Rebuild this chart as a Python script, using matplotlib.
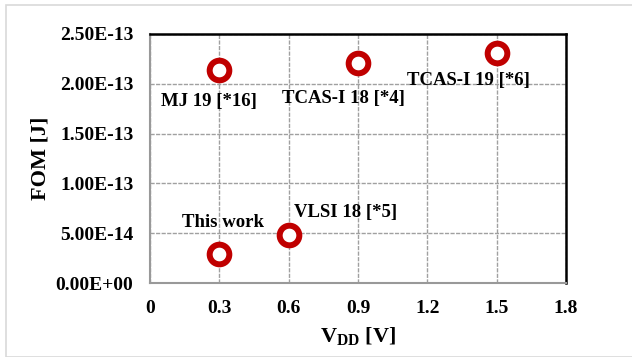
import matplotlib.pyplot as plt
from matplotlib.patches import Rectangle

vdd = [0.3, 0.6, 0.3, 0.9, 1.5]
fom = [2.9e-14, 4.8e-14, 2.14e-13, 2.21e-13, 2.31e-13]
names = ["This work", "VLSI 18 [*5]", "MJ 19 [*16]", "TCAS-I 18 [*4]", "TCAS-I 19 [*6]"]
# label offsets (data units) relative to each point
lab_dx = [0.016, 0.248, -0.045, -0.065, -0.12]
lab_dy = [3.2e-14, 2.3e-14, -3.2e-14, -3.6e-14, -2.8e-14]
xticks = [0, 0.3, 0.6, 0.9, 1.2, 1.5, 1.8]
xticklabels = ["0", "0.3", "0.6", "0.9", "1.2", "1.5", "1.8"]
yticks = [0, 5e-14, 1e-13, 1.5e-13, 2e-13, 2.5e-13]
yticklabels = ["0.00E+00", "5.00E-14", "1.00E-13", "1.50E-13", "2.00E-13", "2.50E-13"]

plt.rcParams['font.family'] = ['Liberation Serif', 'DejaVu Serif']
plt.rcParams['font.weight'] = 'bold'
plt.rcParams['mathtext.fontset'] = 'custom'
plt.rcParams['mathtext.rm'] = 'Liberation Serif:bold'
plt.rcParams['mathtext.bf'] = 'Liberation Serif:bold'

W, H = 632, 357
fig = plt.figure(figsize=(W/100, H/100), dpi=100)
fig.patches.append(Rectangle((6/W, 0), 1, 1 - 5/H, transform=fig.transFigure,
                             fill=False, edgecolor='#d9d9d9', linewidth=1.2))
ax = fig.add_axes([150/W, 1 - 283/H, (566-150)/W, (283-34)/H])

ax.scatter(vdd, fom, s=200, facecolors='white', edgecolors='#c00000', linewidths=4.3, zorder=3)
for x, y, n, dx, dy in zip(vdd, fom, names, lab_dx, lab_dy):
    ax.text(x + dx, y + dy, n, ha='center', va='center', fontsize=13.5, fontweight='bold', zorder=4)

ax.set_xlim(0, 1.8)
ax.set_ylim(0, 2.5e-13)
ax.set_xticks(xticks)
ax.set_xticklabels(xticklabels)
ax.set_yticks(yticks)
ax.set_yticklabels(yticklabels)
ax.tick_params(length=0, labelsize=14, pad=12)
ax.grid(True, color='#a0a0a0', linestyle='--', linewidth=1, dashes=(3, 1))
ax.set_axisbelow(True)
for s in ['left', 'bottom']:
    ax.spines[s].set_color('#999999')
    ax.spines[s].set_linewidth(1.5)
for s in ['right', 'top']:
    ax.spines[s].set_color('black')
    ax.spines[s].set_linewidth(1.8)

ax.set_xlabel(r'V$_{\mathrm{DD}}$ [V]', fontsize=16, fontweight='bold', labelpad=6)
ax.set_ylabel('FOM [J]', fontsize=16, fontweight='bold', labelpad=4)

fig.savefig('out.png', dpi=100)
